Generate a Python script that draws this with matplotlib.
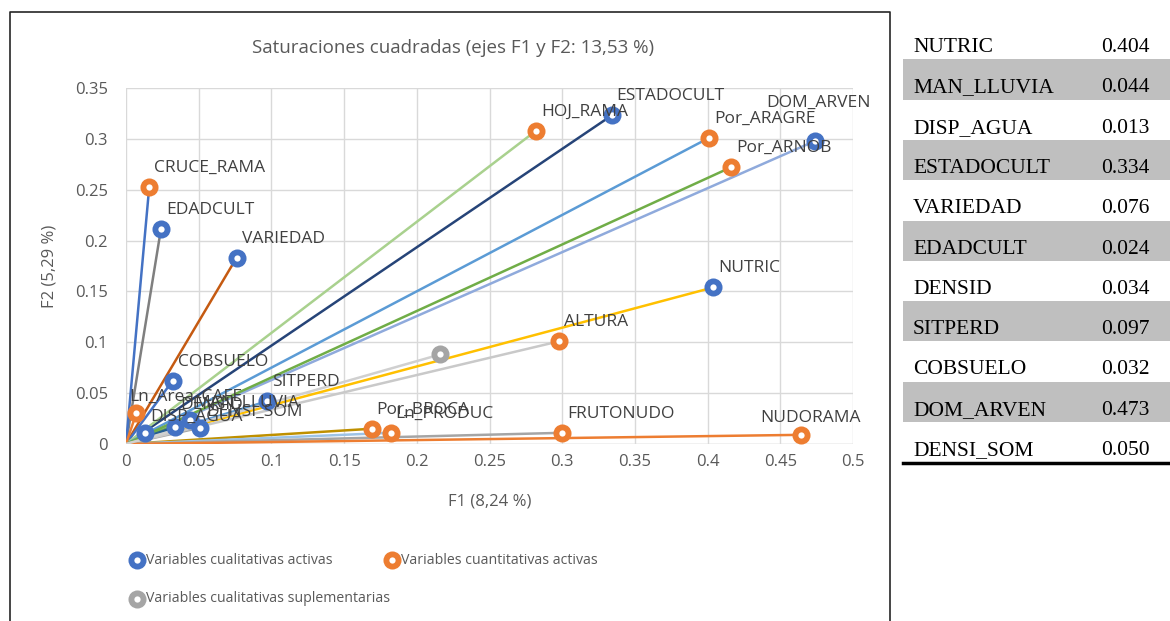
import matplotlib
matplotlib.use("Agg")
import matplotlib.pyplot as plt
from matplotlib.lines import Line2D
from matplotlib.patches import Rectangle

# puntos del grafico (F1, F2)
cual_names = ["NUTRIC", "DOM_ARVEN", "ESTADOCULT", "VARIEDAD", "EDADCULT", "COBSUELO",
              "SITPERD", "MAN_LLUVIA", "DENSID", "DENSI_SOM", "DISP_AGUA"]
cual_f1 = [0.404, 0.474, 0.334, 0.076, 0.024, 0.032, 0.097, 0.044, 0.034, 0.051, 0.013]
cual_f2 = [0.154, 0.298, 0.323, 0.183, 0.211, 0.062, 0.042, 0.024, 0.017, 0.016, 0.011]

cuan_names = ["CRUCE_RAMA", "HOJ_RAMA", "Por_ARAGRE", "Por_ARNOB", "ALTURA", "Ln_Area_CAFE",
              "Por_BROCA", "Ln_PRODUC", "FRUTONUDO", "NUDORAMA"]
cuan_f1 = [0.016, 0.282, 0.401, 0.416, 0.298, 0.007, 0.169, 0.182, 0.300, 0.464]
cuan_f2 = [0.253, 0.308, 0.301, 0.272, 0.101, 0.030, 0.015, 0.011, 0.011, 0.009]

sup_f1 = [0.216]
sup_f2 = [0.088]

# colores de las lineas desde el origen
cual_line_col = ["#FFC000", "#8FAADC", "#264478", "#C55A11", "#7F7F7F", "#4472C4",
                 "#5B9BD5", "#70AD47", "#255E91", "#A5A5A5", "#4472C4"]
cuan_line_col = ["#4472C4", "#A9D18E", "#5B9BD5", "#70AD47", "#C9C9C9", "#ED7D31",
                 "#BF9000", "#9DC3E6", "#A5A5A5", "#ED7D31"]

# tabla de la derecha
tab_names = ["NUTRIC", "MAN_LLUVIA", "DISP_AGUA", "ESTADOCULT", "VARIEDAD", "EDADCULT",
             "DENSID", "SITPERD", "COBSUELO", "DOM_ARVEN", "DENSI_SOM"]
tab_vals = [0.404, 0.044, 0.013, 0.334, 0.076, 0.024, 0.034, 0.097, 0.032, 0.473, 0.050]

W, H = 1170, 621
fig = plt.figure(figsize=(W / 100, H / 100), dpi=100)
txtcol = "#595959"
font = "Open Sans"

ax = fig.add_axes([126 / W, 1 - 444 / H, (853 - 126) / W, (444 - 88) / H])
ax.set_xlim(0, 0.5)
ax.set_ylim(0, 0.35)
ax.set_xticks([i * 0.05 for i in range(11)])
ax.set_yticks([i * 0.05 for i in range(8)])
ax.set_xticklabels(["0", "0.05", "0.1", "0.15", "0.2", "0.25", "0.3", "0.35", "0.4", "0.45", "0.5"])
ax.set_yticklabels(["0", "0.05", "0.1", "0.15", "0.2", "0.25", "0.3", "0.35"])
ax.grid(True, color="#D9D9D9", lw=1)
ax.set_axisbelow(True)
for s in ax.spines.values():
    s.set_visible(False)
ax.axhline(0, color="#D9D9D9", lw=1)
ax.tick_params(length=0, labelsize=12, labelcolor=txtcol)
ax.tick_params(axis="y", pad=13)
ax.tick_params(axis="x", pad=7)
for lab in ax.get_xticklabels() + ax.get_yticklabels():
    lab.set_family(font)

for x, y, c in zip(cual_f1, cual_f2, cual_line_col):
    ax.plot([0, x], [0, y], color=c, lw=1.8, zorder=3)
for x, y, c in zip(cuan_f1, cuan_f2, cuan_line_col):
    ax.plot([0, x], [0, y], color=c, lw=1.8, zorder=3)
for x, y in zip(sup_f1, sup_f2):
    ax.plot([0, x], [0, y], color="#D0D0D0", lw=1.8, zorder=3)


def markers(xs, ys, c):
    ax.plot(xs, ys, "o", ms=13, color=c, mec="none", zorder=5, clip_on=False)
    ax.plot(xs, ys, "o", ms=4.5, color="white", mec="none", zorder=5.5, clip_on=False)


markers(cual_f1, cual_f2, "#4472C4")
markers(cuan_f1, cuan_f2, "#ED7D31")
markers(sup_f1, sup_f2, "#A5A5A5")

# etiquetas (offset en pixeles)
offs = {"DOM_ARVEN": (-49, 38), "NUDORAMA": (-40, 17), "Ln_Area_CAFE": (-7, 17),
        "DENSID": (5, 22), "MAN_LLUVIA": (4, 17), "DENSI_SOM": (6, 16),
        "DISP_AGUA": (5, 16)}
for names, xs, ys in [(cual_names, cual_f1, cual_f2), (cuan_names, cuan_f1, cuan_f2)]:
    for n, x, y in zip(names, xs, ys):
        dx, dy = offs.get(n, (5, 19))
        ax.annotate(n, (x, y), xytext=(dx * 0.72, dy * 0.72), textcoords="offset points",
                    ha="left", va="center", fontsize=12.5, color="#404040", family=font,
                    zorder=6, annotation_clip=False)

fig.text(453 / W, 1 - 48 / H, "Saturaciones cuadradas (ejes F1 y F2: 13,53 %)",
         ha="center", va="center", fontsize=13.5, color=txtcol, family=font)
fig.text(490 / W, 1 - 502 / H, "F1 (8,24 %)", ha="center", va="center",
         fontsize=12, color=txtcol, family=font)
fig.text(50 / W, 1 - 266 / H, "F2 (5,29 %)", ha="center", va="center", rotation=90,
         fontsize=12, color=txtcol, family=font)

# leyenda
leg = [(137, 560, "#4472C4", "Variables cualitativas activas"),
       (392, 560, "#ED7D31", "Variables cuantitativas activas"),
       (137, 599, "#A5A5A5", "Variables cualitativas suplementarias")]
for px, py, c, t in leg:
    fig.add_artist(Line2D([px / W], [1 - py / H], transform=fig.transFigure, marker="o",
                          ms=13, color=c, mec="none"))
    fig.add_artist(Line2D([px / W], [1 - py / H], transform=fig.transFigure, marker="o",
                          ms=4.5, color="white", mec="none"))
    fig.text((px + 9) / W, 1 - py / H, t, ha="left", va="center", fontsize=10.2,
             color=txtcol, family=font)

# marco del grafico
fig.add_artist(Line2D([10 / W, 10 / W, 890 / W, 890 / W], [0, 1 - 12 / H, 1 - 12 / H, 0],
                      transform=fig.transFigure, color="#262626", lw=1.2))

# tabla
row_h = 40.3
for i, (n, v) in enumerate(zip(tab_names, tab_vals)):
    top = 19 + row_h * i
    if i % 2 == 1:
        fig.add_artist(Rectangle((903 / W, 1 - (top + row_h) / H), (W - 903) / W, row_h / H,
                                 transform=fig.transFigure, color="#BFBFBF", lw=0))
    yb = 1 - (top + 33) / H
    fig.text(913 / W, yb, n, ha="left", va="baseline", fontsize=15.5,
             family="Liberation Serif", color="black")
    fig.text(1101 / W, yb, "%.3f" % v, ha="left", va="baseline", fontsize=15.5,
             family="Liberation Serif", color="black")
fig.add_artist(Line2D([903 / W, 1], [1 - 463 / H, 1 - 463 / H], transform=fig.transFigure,
                      color="black", lw=2.5))

fig.savefig("out.png", dpi=100)
